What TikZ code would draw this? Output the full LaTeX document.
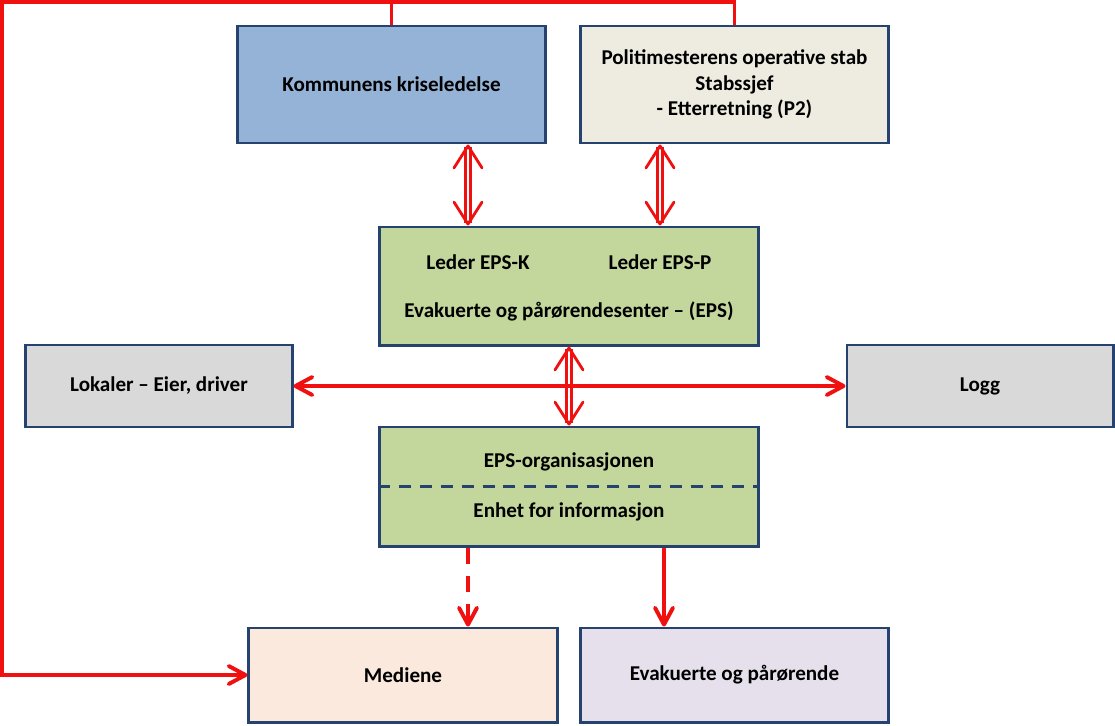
\documentclass[tikz,border=0pt]{standalone}
\usepackage{fontspec}
\setmainfont{Carlito}
\usetikzlibrary{arrows.meta}
\definecolor{boxline}{RGB}{38,66,110}
\definecolor{kommfill}{RGB}{149,179,215}
\definecolor{polfill}{RGB}{238,236,225}
\definecolor{epsfill}{RGB}{195,214,155}
\definecolor{greyfill}{RGB}{217,217,217}
\definecolor{medfill}{RGB}{252,233,221}
\definecolor{evakfill}{RGB}{229,224,236}
\definecolor{arrred}{RGB}{240,16,16}
\tikzset{
  box/.style={draw=boxline, line width=2.1pt, align=center, inner sep=0pt,
    font=\fontsize{15}{18}\selectfont\bfseries},
  txt/.style={font=\fontsize{15}{18}\selectfont\bfseries, inner sep=0pt},
  redline/.style={draw=arrred, line width=2.8pt},
  tip/.style={-{Straight Barb[length=0.42cm, width=0.45cm, round]}},
  tips/.style={{Straight Barb[length=0.42cm, width=0.45cm, round]}-{Straight Barb[length=0.42cm, width=0.45cm, round]}},
  dbl/.style={draw=arrred, line width=2pt, double=white, double distance=1.7pt,
    {Straight Barb[length=0.55cm, width=0.7cm, round]}-{Straight Barb[length=0.55cm, width=0.7cm, round]}}
}
\begin{document}
\begin{tikzpicture}[x=0.025cm, y=-0.025cm]
\useasboundingbox (0,0) rectangle (1115,725);
% boxes
\node[box, fill=kommfill, minimum width=7.675cm, minimum height=2.925cm] (komm) at (391.5,84.5) {Kommunens kriseledelse};
\node[box, fill=polfill, minimum width=7.675cm, minimum height=2.925cm] (pol) at (734.5,84.5) {Politimesterens operative stab\\Stabssjef\\- Etterretning (P2)};
\node[box, fill=epsfill, minimum width=9.45cm, minimum height=2.95cm] (leder) at (569,286) {};
\node[txt] (lederk) at (478,262) {Leder EPS-K};
\node[txt] (lederp) at (660,262) {Leder EPS-P};
\node[txt] (eps) at (569,311) {Evakuerte og pårørendesenter – (EPS)};
\node[box, fill=greyfill, minimum width=6.65cm, minimum height=2.05cm] (lok) at (159,386) {Lokaler – Eier, driver};
\node[box, fill=greyfill, minimum width=6.65cm, minimum height=2.05cm] (logg) at (980,386) {Logg};
\node[box, fill=epsfill, minimum width=9.45cm, minimum height=2.975cm] (org) at (569,486.5) {};
\node[txt] (orgt) at (569,462) {EPS-organisasjonen};
\node[txt] (info) at (569,512) {Enhet for informasjon};
\draw[boxline, line width=2.1pt, dash pattern=on 0.3cm off 0.22cm] (org.west) -- (org.east);
\node[box, fill=medfill, minimum width=7.7cm, minimum height=2.35cm] (med) at (403,675) {Mediene};
\node[box, fill=evakfill, minimum width=7.675cm, minimum height=2.35cm] (evak) at (734.5,675) {Evakuerte og pårørende};
% helper points
\coordinate (c1) at (468,0);
\coordinate (c2) at (660,0);
\coordinate (c3) at (664,0);
\coordinate (tl) at (2,2);
% arrows
\draw[dbl] (komm.south -| c1) -- (leder.north -| c1);
\draw[dbl] (pol.south -| c2) -- (leder.north -| c2);
\draw[dbl] (leder.south) -- (org.north);
\draw[redline, tips] (lok.east) -- (logg.west);
\draw[redline, tip, dash pattern=on 0.4cm off 0.3cm] (org.south -| c1) -- (med.north -| c1);
\draw[redline, tip] (org.south -| c3) -- (evak.north -| c3);
\draw[redline] (komm.north) -- (komm.north |- tl);
\draw[redline, tip] (pol.north) |- (tl) |- (med.west);
\end{tikzpicture}
\end{document}
